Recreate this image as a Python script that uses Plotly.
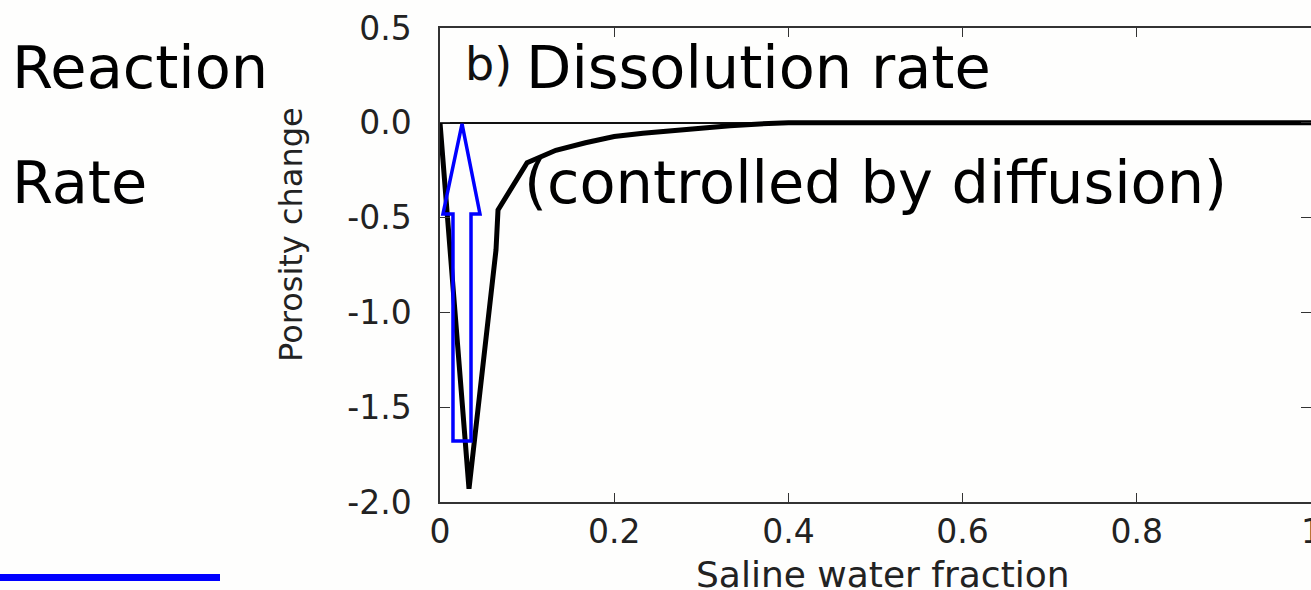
import plotly.graph_objects as go

# ---- data ----
saline_fraction = [0, 0.0333, 0.0643, 0.0666, 0.1, 0.133, 0.167, 0.2, 0.233, 0.267,
                   0.3, 0.333, 0.367, 0.4, 0.5, 0.6, 0.7, 0.8, 0.9, 1.0]
porosity_change = [0, -1.93, -0.67, -0.46, -0.21, -0.145, -0.105, -0.072, -0.055, -0.04,
                   -0.028, -0.016, -0.006, 0, 0, 0, 0, 0, 0, 0]

x_tick_vals = [0, 0.2, 0.4, 0.6, 0.8, 1.0]
x_tick_text = ["0", "0.2", "0.4", "0.6", "0.8", "1"]
y_tick_vals = [-2.0, -1.5, -1.0, -0.5, 0.0, 0.5]
y_tick_text = ["-2.0", "-1.5", "-1.0", "-0.5", "0.0", "0.5"]

# hollow blue arrow outline (data coordinates)
arrow_x = [0.0253, 0.0459, 0.0356, 0.0356, 0.0149, 0.0149, 0.0034]
arrow_y = [-0.006, -0.481, -0.481, -1.678, -1.678, -0.481, -0.481]

W, H = 1311, 590
L, R, T, B = 440, 0, 28, 88
PW, PH = W - L - R, H - T - B


def px(xp):
    return (xp - L) / PW


def py(yp):
    return (H - B - yp) / PH


fig = go.Figure()
fig.add_trace(go.Scatter(
    x=saline_fraction, y=porosity_change, mode="lines",
    line=dict(color="black", width=5), showlegend=False, hoverinfo="skip"))

path = "M " + " L ".join(f"{a} {b}" for a, b in zip(arrow_x, arrow_y)) + " Z"
fig.add_shape(type="path", path=path, xref="x", yref="y",
              line=dict(color="#0000ff", width=3.5), fillcolor="rgba(0,0,0,0)")

# blue bar at bottom-left
fig.add_shape(type="rect", xref="paper", yref="paper",
              x0=px(0), x1=px(220), y0=py(581), y1=py(574),
              line=dict(width=0), fillcolor="#0000ff")

big = dict(family="DejaVu Sans", size=59, color="black")
tickfont = dict(family="DejaVu Sans", size=33, color="#222")
anns = [
    dict(text="Reaction", x=px(10), y=py(67), xanchor="left", yanchor="middle", font=big),
    dict(text="Rate", x=px(10), y=py(182), xanchor="left", yanchor="middle", font=big),
    dict(text="b)", x=px(463), y=py(64), xanchor="left", yanchor="middle",
         font=dict(family="DejaVu Sans", size=46, color="#111")),
    dict(text="Dissolution rate", x=px(524), y=py(67), xanchor="left", yanchor="middle", font=big),
    dict(text="(controlled by diffusion)", x=px(522), y=py(182), xanchor="left",
         yanchor="middle", font=big),
    dict(text="Porosity change", x=px(291), y=py(235), xanchor="center", yanchor="middle",
         textangle=-90, font=dict(family="DejaVu Sans", size=32, color="#222")),
    dict(text="Saline water fraction", x=px(883), y=py(574), xanchor="center",
         yanchor="middle", font=dict(family="DejaVu Sans", size=36, color="#222")),
    # last x tick label, partly beyond the right edge as in the reference
    dict(text=x_tick_text[-1], x=1.0, y=py(531), xanchor="center", yanchor="middle",
         font=tickfont),
]
for a in anns:
    fig.add_annotation(xref="paper", yref="paper", showarrow=False, **a)

fig.update_xaxes(range=[0, 1], tickvals=x_tick_vals[:-1], ticktext=x_tick_text[:-1],
                 ticks="inside", ticklen=9, tickwidth=1.2, tickcolor="#333",
                 showline=True, linecolor="#333", linewidth=1.5, mirror="ticks",
                 showgrid=False, zeroline=False, tickfont=tickfont,
                 ticklabelstandoff=0, automargin=False)
fig.update_yaxes(range=[-2, 0.5], tickvals=y_tick_vals, ticktext=y_tick_text,
                 ticks="inside", ticklen=10, tickwidth=1.2, tickcolor="#333",
                 showline=True, linecolor="#333", linewidth=1.5, mirror="ticks",
                 showgrid=False, zeroline=True, zerolinecolor="#111", zerolinewidth=1.5,
                 tickfont=tickfont, ticklabelstandoff=20, automargin=False)

fig.update_layout(width=W, height=H, margin=dict(l=L, r=R, t=T, b=B),
                  paper_bgcolor="#fefefd", plot_bgcolor="#fefefd",
                  showlegend=False, template="none")

fig.write_html("out.html")
